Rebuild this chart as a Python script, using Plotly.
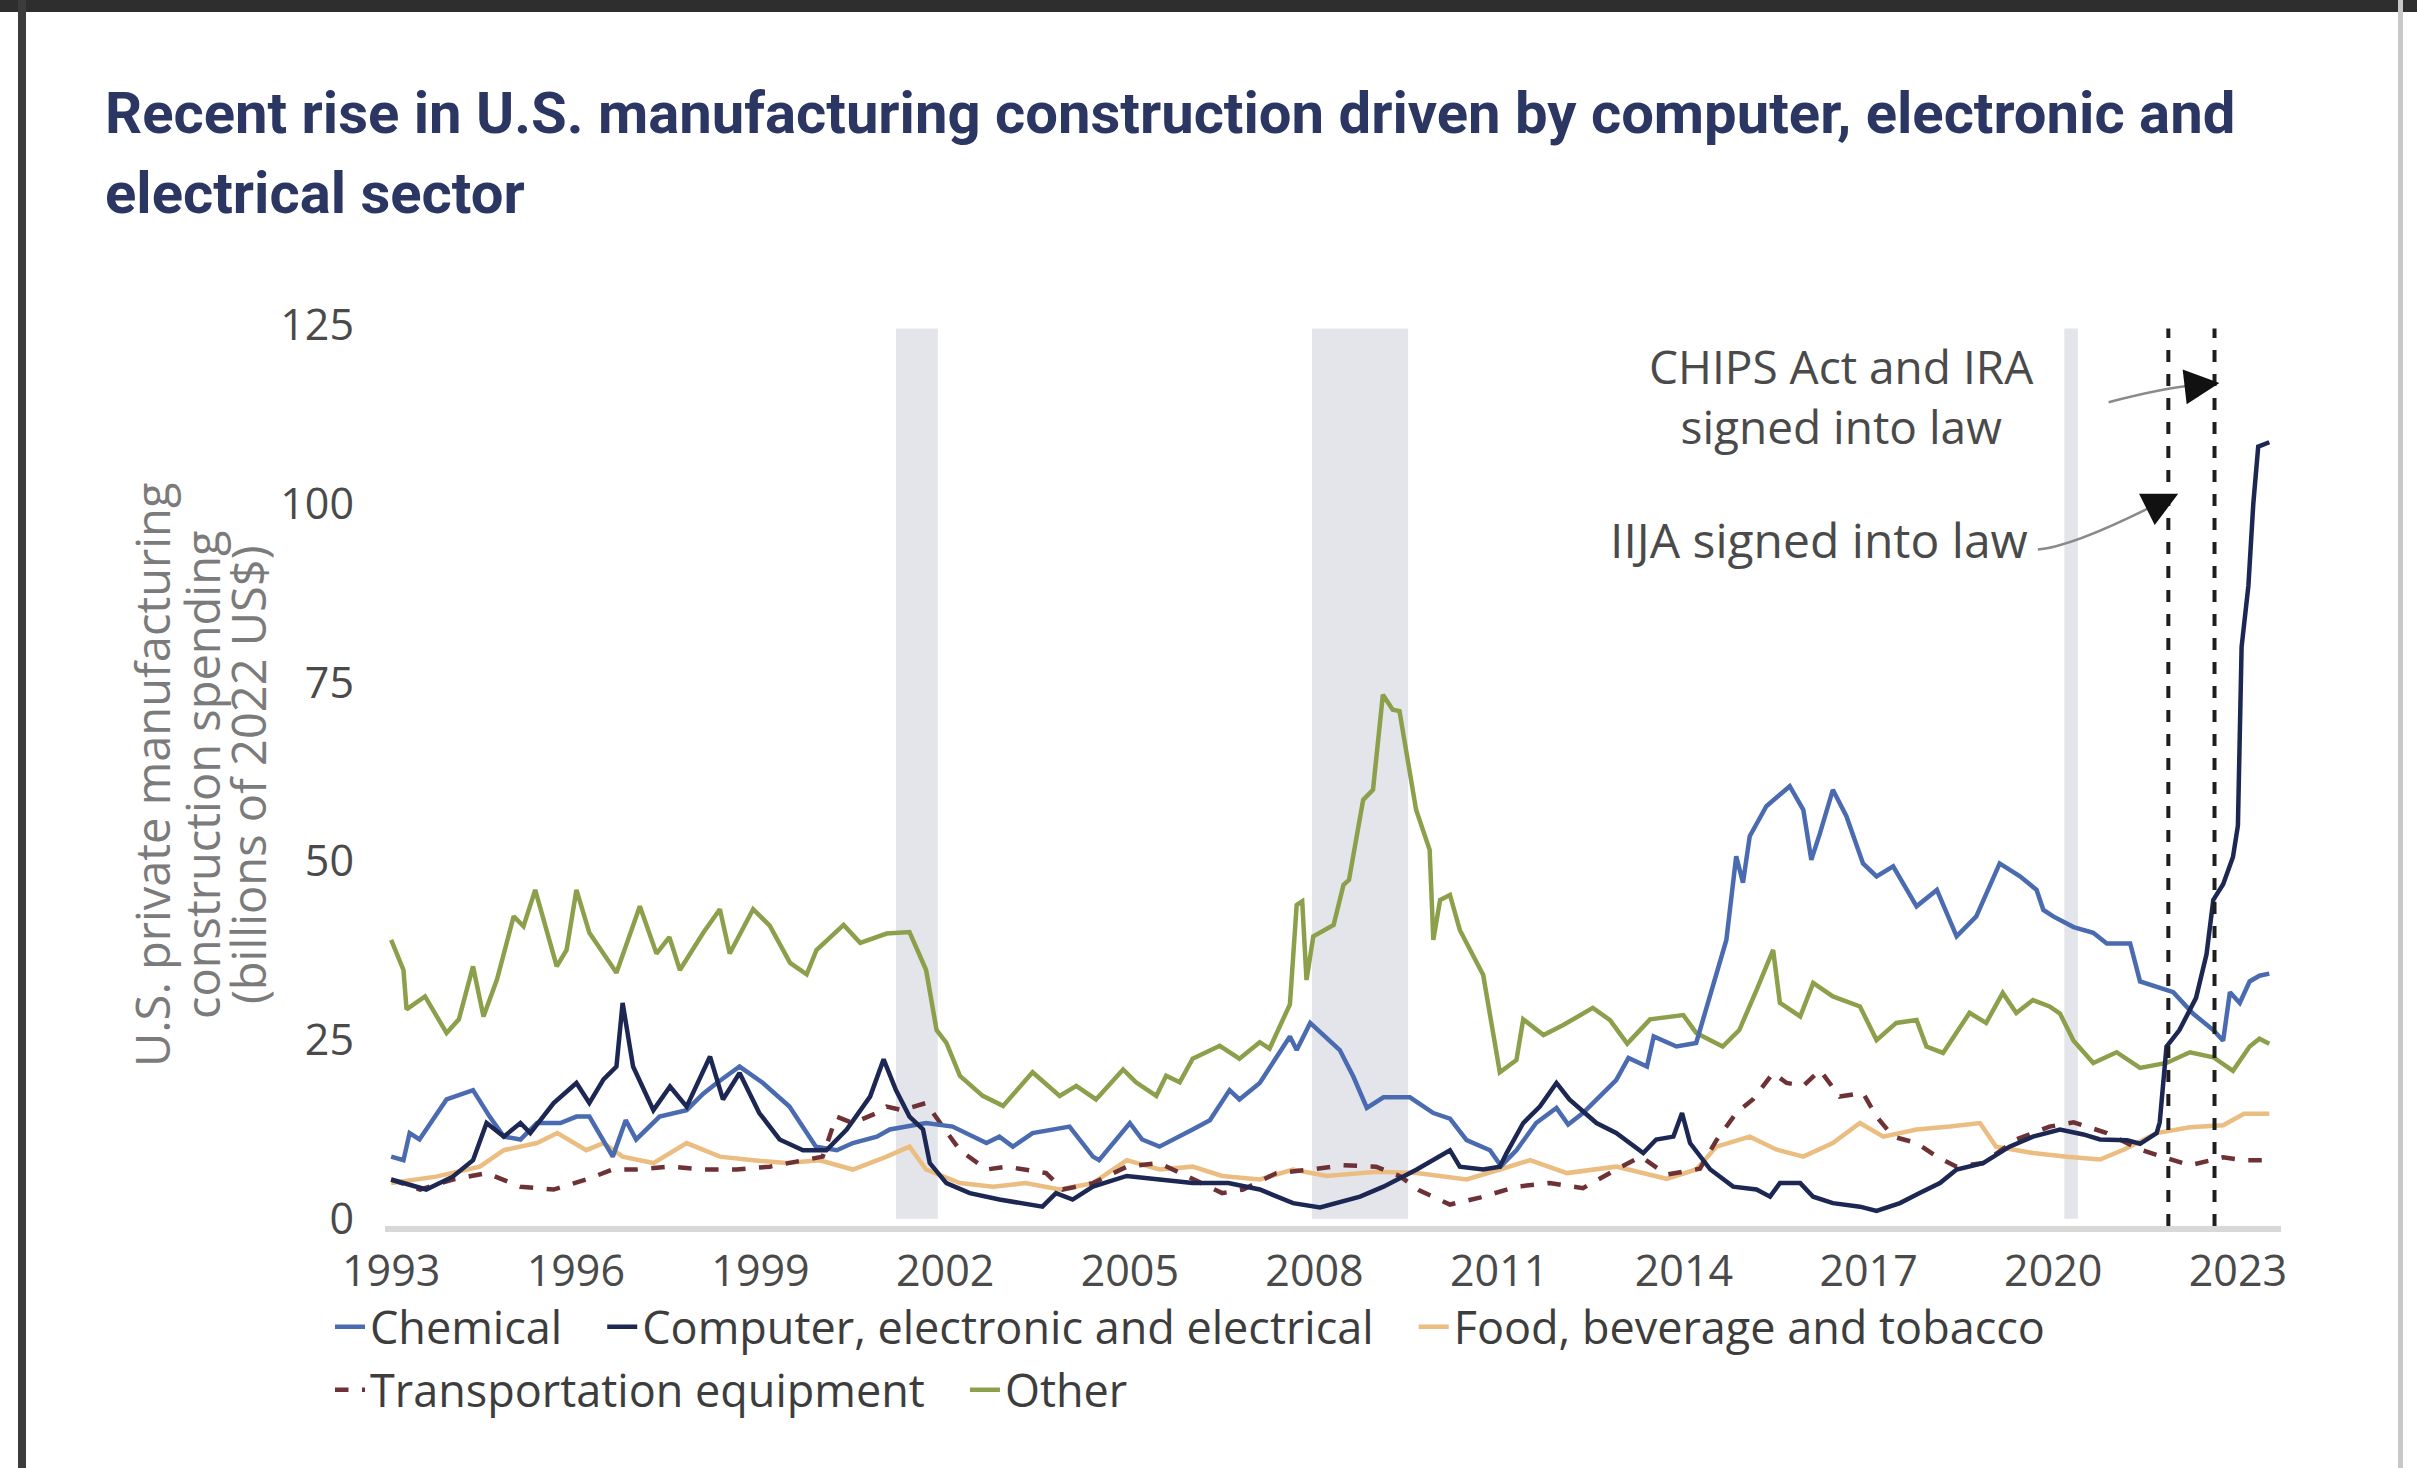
import plotly.graph_objects as go

# ---------------- data (decimal year, billions of 2022 US$) ----------------
chem_t = [1993.0, 1993.2, 1993.3, 1993.46, 1993.9, 1994.33, 1994.6, 1994.83, 1995.1, 1995.37, 1995.75, 1996.01, 1996.22, 1996.6, 1996.81, 1996.98, 1997.36, 1997.8, 1998.07, 1998.29, 1998.66, 1999.04, 1999.47, 1999.69, 1999.9, 2000.24, 2000.5, 2000.89, 2001.1, 2001.69, 2002.12, 2002.67, 2002.88, 2003.1, 2003.42, 2004.02, 2004.4, 2004.5, 2005.0, 2005.2, 2005.48, 2006.02, 2006.3, 2006.62, 2006.78, 2007.11, 2007.33, 2007.6, 2007.71, 2007.93, 2008.41, 2008.63, 2008.85, 2009.12, 2009.55, 2009.93, 2010.2, 2010.47, 2010.85, 2011.03, 2011.28, 2011.6, 2011.93, 2012.12, 2012.36, 2012.63, 2012.9, 2013.1, 2013.4, 2013.51, 2013.88, 2014.2, 2014.48, 2014.69, 2014.85, 2014.96, 2015.07, 2015.34, 2015.72, 2015.94, 2016.07, 2016.21, 2016.42, 2016.64, 2016.91, 2017.13, 2017.4, 2017.78, 2018.11, 2018.43, 2018.75, 2019.13, 2019.46, 2019.73, 2019.84, 2020.0, 2020.33, 2020.65, 2020.87, 2021.25, 2021.41, 2021.68, 2021.95, 2022.27, 2022.6, 2022.76, 2022.87, 2023.03, 2023.19, 2023.35, 2023.51]
chem_v = [8.7, 8.2, 12.0, 11.1, 16.7, 18.0, 14.3, 11.5, 11.1, 13.4, 13.4, 14.3, 14.3, 8.7, 13.8, 11.1, 14.3, 15.2, 17.5, 19.0, 21.3, 19.0, 15.7, 12.9, 10.1, 9.6, 10.6, 11.5, 12.5, 13.4, 12.9, 10.6, 11.5, 10.1, 12.0, 12.9, 8.7, 8.2, 13.4, 11.1, 10.1, 12.5, 13.8, 18.0, 16.7, 19.0, 21.8, 25.5, 23.6, 27.4, 23.6, 19.9, 15.5, 17.0, 17.0, 14.8, 14.0, 11.0, 9.6, 7.4, 9.6, 13.4, 15.5, 13.2, 14.8, 17.0, 19.4, 22.5, 21.3, 25.5, 24.1, 24.6, 33.0, 39.0, 50.7, 47.0, 53.5, 57.7, 60.5, 57.2, 50.2, 53.9, 60.0, 56.3, 49.7, 47.9, 49.3, 43.7, 46.0, 39.5, 42.3, 49.7, 47.9, 46.0, 43.2, 42.3, 40.8, 40.0, 38.5, 38.5, 33.2, 32.5, 31.7, 28.7, 26.4, 24.9, 31.7, 30.2, 33.2, 34.0, 34.3]

comp_t = [1993.0, 1993.57, 1994.0, 1994.33, 1994.55, 1994.83, 1995.1, 1995.26, 1995.64, 1996.01, 1996.22, 1996.45, 1996.66, 1996.76, 1996.93, 1997.26, 1997.53, 1997.8, 1998.18, 1998.39, 1998.66, 1998.98, 1999.31, 1999.69, 2000.07, 2000.4, 2000.78, 2001.0, 2001.2, 2001.42, 2001.64, 2001.75, 2002.02, 2002.4, 2002.88, 2003.58, 2003.8, 2004.07, 2004.4, 2004.95, 2005.48, 2006.02, 2006.6, 2007.11, 2007.65, 2008.09, 2008.74, 2009.12, 2009.66, 2010.2, 2010.36, 2010.74, 2011.01, 2011.12, 2011.39, 2011.66, 2011.93, 2012.14, 2012.58, 2012.9, 2013.34, 2013.55, 2013.83, 2013.97, 2014.1, 2014.43, 2014.8, 2015.18, 2015.4, 2015.56, 2015.89, 2016.1, 2016.42, 2016.86, 2017.13, 2017.51, 2017.83, 2018.16, 2018.43, 2018.86, 2019.29, 2019.67, 2020.11, 2020.49, 2020.76, 2021.2, 2021.41, 2021.68, 2021.73, 2021.76, 2021.84, 2022.05, 2022.32, 2022.49, 2022.6, 2022.76, 2022.92, 2023.0, 2023.06, 2023.17, 2023.25, 2023.33, 2023.51]
comp_v = [5.5, 4.1, 5.9, 8.2, 13.4, 11.5, 13.4, 12.0, 16.2, 19.0, 16.2, 19.5, 21.3, 30.2, 21.3, 15.2, 18.5, 15.7, 22.7, 16.7, 20.4, 14.8, 11.1, 9.6, 9.6, 12.5, 17.1, 22.3, 18.0, 14.3, 12.5, 7.8, 5.0, 3.6, 2.7, 1.7, 3.6, 2.7, 4.5, 6.0, 5.5, 5.0, 5.0, 4.1, 2.2, 1.6, 3.1, 4.5, 6.9, 9.6, 7.3, 6.9, 7.3, 9.2, 13.4, 15.7, 19.0, 16.7, 13.4, 12.0, 9.2, 11.1, 11.5, 14.8, 10.6, 6.9, 4.5, 4.1, 3.1, 5.0, 5.0, 3.1, 2.2, 1.7, 1.1, 2.2, 3.6, 5.0, 6.9, 7.8, 10.1, 11.5, 12.5, 11.8, 11.1, 11.0, 10.5, 12.0, 13.5, 16.5, 24.1, 26.4, 30.9, 37.0, 44.6, 46.8, 50.6, 55.0, 80.0, 88.5, 100.0, 108.0, 108.6]

food_t = [1993.0, 1993.73, 1994.44, 1994.83, 1995.37, 1995.7, 1996.17, 1996.45, 1996.76, 1997.26, 1997.8, 1998.34, 1998.88, 1999.42, 1999.96, 2000.5, 2001.05, 2001.42, 2001.69, 2002.24, 2002.78, 2003.3, 2003.86, 2004.4, 2004.95, 2005.48, 2006.02, 2006.5, 2007.11, 2007.65, 2008.2, 2009.0, 2009.66, 2010.47, 2011.01, 2011.5, 2012.1, 2012.9, 2013.72, 2014.2, 2014.53, 2015.07, 2015.5, 2015.94, 2016.42, 2016.86, 2017.24, 2017.78, 2018.32, 2018.81, 2019.07, 2019.67, 2020.22, 2020.76, 2021.15, 2021.68, 2022.22, 2022.76, 2023.1, 2023.51]
food_v = [5.0, 5.9, 7.3, 9.6, 10.6, 12.0, 9.6, 10.6, 8.7, 7.8, 10.6, 8.7, 8.2, 7.8, 8.2, 6.9, 8.7, 10.1, 6.9, 5.0, 4.5, 5.0, 4.1, 5.0, 8.2, 6.9, 7.3, 6.0, 5.5, 6.9, 6.0, 6.6, 6.4, 5.5, 6.9, 8.2, 6.4, 7.3, 5.6, 6.9, 10.1, 11.5, 9.7, 8.7, 10.6, 13.4, 11.5, 12.5, 12.9, 13.4, 10.1, 9.2, 8.7, 8.3, 9.7, 12.0, 12.8, 13.1, 14.7, 14.7]

trans_t = [1993.0, 1993.47, 1994.0, 1994.55, 1995.1, 1995.64, 1996.17, 1996.6, 1996.98, 1997.53, 1998.07, 1998.61, 1999.15, 1999.69, 2000.01, 2000.23, 2000.5, 2000.89, 2001.05, 2001.3, 2001.69, 2001.96, 2002.24, 2002.67, 2003.0, 2003.64, 2003.91, 2004.4, 2004.95, 2005.48, 2006.02, 2006.5, 2006.84, 2007.38, 2007.93, 2008.47, 2009.0, 2009.38, 2009.7, 2010.2, 2010.7, 2011.28, 2011.82, 2012.36, 2012.9, 2013.3, 2013.72, 2014.26, 2014.53, 2014.85, 2015.12, 2015.45, 2015.67, 2015.94, 2016.21, 2016.53, 2016.91, 2017.13, 2017.4, 2017.78, 2018.11, 2018.43, 2018.86, 2019.4, 2019.94, 2020.33, 2020.87, 2021.41, 2021.95, 2022.22, 2022.76, 2023.1, 2023.51]
trans_v = [5.5, 4.1, 5.5, 6.4, 4.5, 4.1, 5.5, 6.9, 6.9, 7.3, 6.9, 6.9, 7.3, 8.2, 8.7, 14.3, 13.4, 14.8, 15.7, 15.2, 16.2, 12.9, 9.6, 6.9, 7.3, 6.4, 4.1, 5.0, 7.3, 7.8, 5.5, 3.6, 4.1, 6.4, 6.9, 7.5, 7.3, 6.0, 4.0, 2.0, 3.0, 4.5, 5.0, 4.3, 6.9, 8.7, 6.2, 7.0, 11.0, 14.8, 16.7, 20.4, 19.0, 18.6, 20.8, 17.1, 17.6, 14.3, 11.5, 10.6, 8.7, 7.3, 7.8, 11.1, 12.9, 13.5, 12.0, 9.7, 8.2, 7.5, 8.6, 8.2, 8.2]

other_t = [1993.0, 1993.2, 1993.25, 1993.55, 1993.9, 1994.1, 1994.33, 1994.5, 1994.72, 1994.99, 1995.15, 1995.34, 1995.69, 1995.85, 1996.01, 1996.22, 1996.66, 1997.04, 1997.31, 1997.52, 1997.69, 1998.07, 1998.34, 1998.5, 1998.88, 1999.15, 1999.48, 1999.75, 1999.91, 2000.35, 2000.62, 2001.05, 2001.42, 2001.69, 2001.86, 2002.02, 2002.24, 2002.61, 2002.94, 2003.42, 2003.86, 2004.13, 2004.45, 2004.89, 2005.1, 2005.43, 2005.59, 2005.81, 2006.02, 2006.46, 2006.78, 2007.11, 2007.27, 2007.49, 2007.6, 2007.71, 2007.8, 2007.87, 2007.98, 2008.31, 2008.47, 2008.56, 2008.79, 2008.95, 2009.11, 2009.27, 2009.38, 2009.65, 2009.87, 2009.93, 2010.04, 2010.2, 2010.36, 2010.74, 2011.01, 2011.28, 2011.39, 2011.72, 2012.04, 2012.52, 2012.8, 2013.08, 2013.45, 2013.99, 2014.2, 2014.63, 2014.9, 2015.18, 2015.45, 2015.56, 2015.89, 2016.1, 2016.42, 2016.86, 2017.13, 2017.45, 2017.78, 2017.94, 2018.21, 2018.64, 2018.91, 2019.18, 2019.4, 2019.67, 2019.94, 2020.11, 2020.33, 2020.65, 2021.03, 2021.41, 2021.84, 2022.22, 2022.6, 2022.92, 2023.19, 2023.35, 2023.51]
other_v = [39.0, 34.8, 29.3, 31.1, 26.0, 27.9, 35.3, 28.3, 33.5, 42.3, 40.9, 46.0, 35.3, 37.6, 46.0, 40.0, 34.4, 43.7, 37.1, 39.4, 34.8, 40.0, 43.3, 37.1, 43.3, 41.0, 35.8, 34.2, 37.6, 41.1, 38.6, 39.9, 40.1, 34.8, 26.4, 24.6, 20.0, 17.2, 15.8, 20.5, 17.2, 18.6, 16.7, 20.9, 19.1, 17.2, 20.0, 19.1, 22.4, 24.2, 22.4, 24.7, 23.8, 27.8, 30.0, 43.9, 44.4, 33.4, 39.5, 41.1, 46.7, 47.4, 58.6, 60.0, 73.3, 71.2, 71.0, 57.2, 51.6, 39.0, 44.6, 45.3, 40.4, 34.1, 20.5, 22.2, 27.9, 25.7, 27.1, 29.5, 27.8, 24.5, 27.9, 28.5, 26.0, 24.1, 26.4, 32.0, 37.6, 30.2, 28.3, 33.0, 31.1, 29.7, 25.0, 27.4, 27.8, 24.1, 23.2, 28.8, 27.4, 31.6, 28.8, 30.6, 29.7, 28.7, 24.9, 21.8, 23.3, 21.1, 21.8, 23.3, 22.6, 20.7, 24.1, 25.2, 24.5]

series_names = ["Chemical", "Computer, electronic and electrical", "Food, beverage and tobacco",
                "Transportation equipment", "Other"]
recessions = [(2001.2, 2001.88), (2007.96, 2009.52), (2020.18, 2020.4)]
policy_dates = [2021.87, 2022.62]   # IIJA (Nov 2021), CHIPS Act & IRA (Aug 2022)
x_ticks = list(range(1993, 2024, 3))
y_ticks = [0, 25, 50, 75, 100, 125]

# ---------------- figure ----------------
W, H = 2417, 1468
ML, MR, MT, MB = 385, 136, 325, 242
PW, PH = W - ML - MR, H - MT - MB
FONT = "Open Sans"

def px(xpix):
    return (xpix - ML) / PW

def py(ypix):
    return (H - MB - ypix) / PH

fig = go.Figure()

styles = [
    dict(color="#4a6bb0", width=4.5),
    dict(color="#1c2753", width=4.5),
    dict(color="#ebbd80", width=4.5),
    dict(color="#6e3136", width=4.5, dash="dash"),
    dict(color="#8c9f4a", width=4.5),
]
data = [(chem_t, chem_v), (comp_t, comp_v), (food_t, food_v), (trans_t, trans_v), (other_t, other_v)]
order = [2, 3, 4, 0, 1]  # draw order (computer on top)
pads = ["\u00a0\u00a0\u00a0", "\u00a0\u00a0\u00a0", "", "\u00a0\u00a0\u00a0", ""]
for i in order:
    t, v = data[i]
    fig.add_trace(go.Scatter(
        x=t, y=v, mode="lines", name=series_names[i] + pads[i], line=styles[i],
        legend="legend" if i < 3 else "legend2", legendrank=i,
    ))

for a, b in recessions:
    fig.add_shape(type="rect", xref="x", yref="y", x0=a, x1=b, y0=0, y1=124.5,
                  fillcolor="#e4e5ea", line_width=0, layer="below")

for d in policy_dates:
    fig.add_shape(type="line", xref="x", yref="y", x0=d, x1=d, y0=-1, y1=124.5,
                  line=dict(color="#1e1e1e", width=4, dash="dash"))

# annotation texts
fig.add_annotation(x=2016.56, y=115.1, xref="x", yref="y",
                   text="CHIPS Act and IRA<br>signed into law",
                   showarrow=False, font=dict(family=FONT, size=46, color="#4a4a4a"),
                   xanchor="center", yanchor="middle", align="center")
fig.add_annotation(x=2019.62, y=95.0, xref="x", yref="y", text="IIJA signed into law",
                   showarrow=False, font=dict(family=FONT, size=48, color="#4a4a4a"),
                   xanchor="right", yanchor="middle")

# grey connector curves
fig.add_shape(type="path", xref="x", yref="y",
              path="M 2020.9,114.2 Q 2021.8,116.2 2022.3,116.6",
              line=dict(color="#8a8a8a", width=2.5))
fig.add_shape(type="path", xref="x", yref="y",
              path="M 2019.75,93.6 Q 2020.3,94.0 2021.6,99.6",
              line=dict(color="#8a8a8a", width=2.5))
# black arrowheads
fig.add_annotation(x=2022.7, y=116.9, xref="x", yref="y", ax=-26, ay=3,
                   showarrow=True, arrowhead=2, arrowsize=1.4, arrowwidth=5,
                   arrowcolor="#111111", text="", standoff=0)
fig.add_annotation(x=2022.03, y=101.4, xref="x", yref="y", ax=-24, ay=12,
                   showarrow=True, arrowhead=2, arrowsize=1.4, arrowwidth=5,
                   arrowcolor="#111111", text="", standoff=0)

# title (two lines)
title_font = dict(family="Roboto", size=58, color="#2b3762", weight="bold")
fig.add_annotation(xref="paper", yref="paper", x=px(103), y=py(113),
                   text="Recent rise in U.S. manufacturing construction driven by computer, electronic and",
                   showarrow=False, xanchor="left", yanchor="middle", font=title_font)
fig.add_annotation(xref="paper", yref="paper", x=px(103), y=py(193),
                   text="electrical sector",
                   showarrow=False, xanchor="left", yanchor="middle", font=title_font)

# y-axis title (three rotated lines)
ytitle_lines = ["U.S. private manufacturing", "construction spending", "(billions of 2022 US$)"]
ytitle_x = [152, 202, 248]
for txt, xx in zip(ytitle_lines, ytitle_x):
    fig.add_annotation(xref="paper", yref="paper", x=px(xx), y=py(775), text=txt,
                       showarrow=False, textangle=-90, xanchor="center", yanchor="middle",
                       font=dict(family=FONT, size=47, color="#7b7b7b"))

# photo frame edges
fig.add_shape(type="rect", xref="paper", yref="paper", x0=px(0), x1=px(W), y0=py(0), y1=py(12),
              fillcolor="#2e2e2e", line_width=0, layer="above")
fig.add_shape(type="rect", xref="paper", yref="paper", x0=px(18), x1=px(26), y0=py(0), y1=py(H),
              fillcolor="#3c3c3c", line_width=0, layer="above")
fig.add_shape(type="rect", xref="paper", yref="paper", x0=px(2398), x1=px(2403), y0=py(0), y1=py(H),
              fillcolor="#c8c8c8", line_width=0, layer="above")

leg_font = dict(family=FONT, size=45, color="#3d3d3d")
fig.update_layout(
    width=W, height=H,
    margin=dict(l=ML, r=MR, t=MT, b=MB, autoexpand=False),
    paper_bgcolor="white", plot_bgcolor="white",
    font=dict(family=FONT, size=43, color="#4a4a4a"),
    showlegend=True,
    legend=dict(orientation="h", x=px(330), y=py(1327), xanchor="left", yanchor="middle",
                font=leg_font, itemwidth=30, tracegroupgap=0, bgcolor="rgba(0,0,0,0)",
                traceorder="normal"),
    legend2=dict(orientation="h", x=px(330), y=py(1390), xanchor="left", yanchor="middle",
                 font=leg_font, itemwidth=30, tracegroupgap=0, bgcolor="rgba(0,0,0,0)",
                 traceorder="normal"),
    xaxis=dict(range=[1992.9, 2023.7], tickvals=x_ticks, ticktext=[str(v) for v in x_ticks],
               showgrid=False, zeroline=False, showline=True, linecolor="#d8d8d8", linewidth=6,
               ticks="", ticklabelstandoff=2, tickfont=dict(family=FONT, size=43, color="#4a4a4a")),
    yaxis=dict(range=[-1, 125], tickvals=y_ticks, showgrid=False, zeroline=False, showline=False,
               ticks="", ticklabelstandoff=30, tickfont=dict(family=FONT, size=43, color="#4a4a4a")),
)

fig.write_html("out.html", config={"displayModeBar": False},
               post_script="document.body.style.margin='0';")
